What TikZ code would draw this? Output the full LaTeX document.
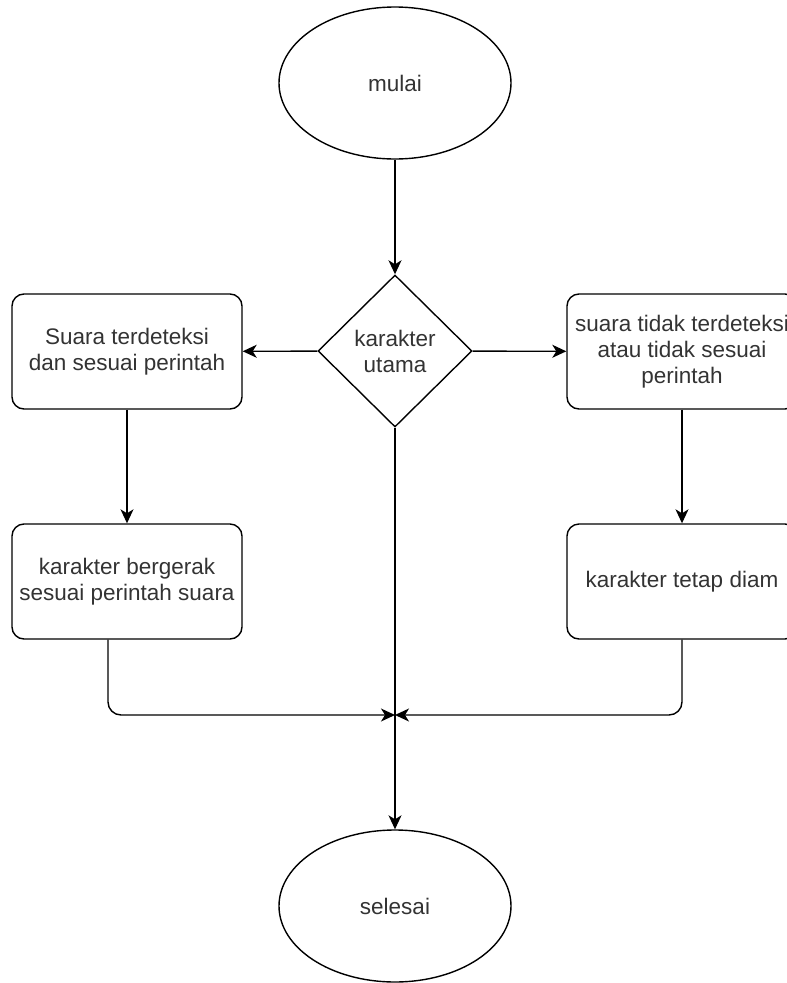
\documentclass[tikz,border=0pt]{standalone}
\usepackage{fontspec}
\setmainfont{Liberation Sans}
\usetikzlibrary{shapes.geometric,arrows.meta}

\tikzset{
  base/.style={draw=black, line width=1.4pt, text=black!80, align=center,
    font=\fontsize{22.5}{26}\selectfont, inner sep=0pt},
  terminal/.style={base, ellipse, minimum width=232pt, minimum height=152pt},
  decision/.style={base, diamond, minimum width=154pt, minimum height=152pt},
  process/.style={base, rounded corners=12pt, minimum width=230pt, minimum height=115pt},
  flow/.style={draw=black, line width=1.4pt,
    -{Stealth[length=14pt,width=13pt,inset=4pt]}},
  mergeline/.style={flow, rounded corners=13pt}
}

\begin{document}
\begin{tikzpicture}[x=1pt, y=-1pt]
  \useasboundingbox (0,0) rectangle (787,983);
  \clip (0,0) rectangle (787,983);

  \node[terminal] (start) at (395,83) {mulai};
  \node[decision] (dec) at (395,351) {karakter\\utama};
  \node[process] (yes1) at (127,351.5) {Suara terdeteksi\\dan sesuai perintah};
  \node[process] (no1) at (682,351.5) {suara tidak terdeteksi\\atau tidak sesuai\\perintah};
  \node[process] (yes2) at (127,581.5) {karakter bergerak\\sesuai perintah suara};
  \node[process] (no2) at (682,581.5) {karakter tetap diam};
  \node[terminal] (finish) at (395,906) {selesai};
  \coordinate (j) at (395,715);

  \draw[flow] (start) -- (dec);
  \draw[flow] (dec) -- (yes1);
  \draw[flow] (dec) -- (no1);
  \draw[flow] (yes1) -- (yes2);
  \draw[flow] (no1) -- (no2);
  \draw[mergeline] (yes2.south -| 108,0) |- (j);
  \draw[mergeline] (no2.south) |- (j);
  \draw[flow] (dec.south) -- (finish.north);
\end{tikzpicture}
\end{document}
